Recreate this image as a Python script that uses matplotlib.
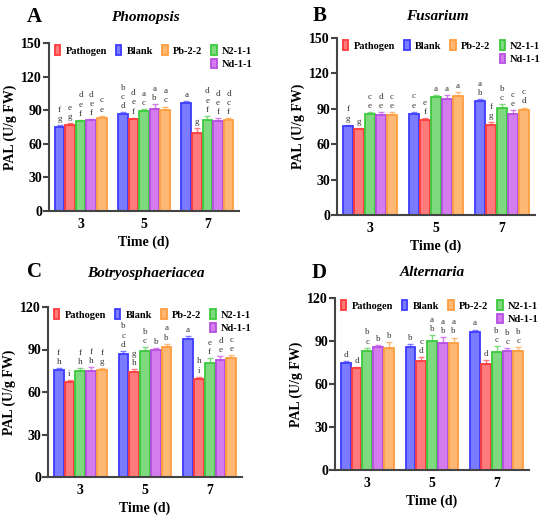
import numpy as np
import matplotlib
matplotlib.use('Agg')
import matplotlib.pyplot as plt
from matplotlib.patches import Patch

plt.rcParams['font.family'] = ['Liberation Serif', 'DejaVu Serif']
plt.rcParams['font.weight'] = 'bold'

days = ['3', '5', '7']
# bar order within each group
treatments = ['Blank', 'Pathogen', 'N2-1-1', 'Nd-1-1', 'Pb-2-2']
legend_order = ['Pathogen', 'Blank', 'Pb-2-2', 'N2-1-1', 'Nd-1-1']
fill = {'Blank': '#7b7bff', 'Pathogen': '#ff7b7b', 'N2-1-1': '#7fd97f',
        'Nd-1-1': '#d47cee', 'Pb-2-2': '#ffb873'}
edge = {'Blank': '#3b3bff', 'Pathogen': '#ff3a3a', 'N2-1-1': '#3dc93d',
        'Nd-1-1': '#b64fe0', 'Pb-2-2': '#ff9d40'}

# values: rows = days, cols = treatments (Blank, Pathogen, N2-1-1, Nd-1-1, Pb-2-2)
phomopsis = [[75, 76.4, 80.5, 81.1, 83.2],
             [86.2, 82.3, 89.4, 91.2, 90.3],
             [96.5, 70, 81, 80, 81]]
phomopsis_err = [[2, 2, 1, 1, 2], [2, 1, 1.5, 4, 3], [1.5, 4, 4, 3, 2]]
phomopsis_let = [['f g', 'e g', 'd e f', 'd e f', 'c e'],
                 ['b c d', 'd e f', 'a c', 'a b', 'a c'],
                 ['a', 'g', 'd e f', 'd e f', 'd c f']]

fusarium = [[75, 73, 85.4, 85, 85],
            [85.6, 80.9, 100, 98.3, 100.9],
            [96.4, 76.6, 90.8, 85.7, 89]]
fusarium_err = [[1.5, 1, 2, 2, 2], [2, 1, 2, 3, 3], [2, 2, 3, 3, 2]]
fusarium_let = [['f g', 'g', 'c e', 'd e', 'c e'],
                ['c e', 'e f', 'a', 'a', 'a'],
                ['a b', 'f g', 'b c', 'c e', 'c d']]

botryo = [[75.5, 67, 75, 74.5, 75.5],
          [87, 74, 89, 90, 91.7],
          [97.4, 69.4, 80.7, 82.6, 83.8]]
botryo_err = [[1.5, 1.5, 2, 3, 1.5], [2, 2, 2.5, 1, 2.5], [2, 1.5, 3, 2.5, 2]]
botryo_let = [['f h', 'i', 'f h', 'f h', 'f g'],
              ['b c d', 'g h', 'b c', 'b', 'a b'],
              ['a', 'h i', 'e f', 'd e', 'c e']]

alternaria = [[74.4, 71, 83.3, 86, 85],
              [85.6, 75.8, 90.2, 88.6, 88.4],
              [96, 74, 82.3, 82.8, 82.8]]
alternaria_err = [[1.5, 1, 2, 1, 4], [2, 3, 4, 4, 4], [2, 3, 4, 2, 3]]
alternaria_let = [['d', 'd', 'b c', 'b', 'b'],
                  ['b', 'c d', 'a b', 'a b', 'a b'],
                  ['a', 'd', 'b c', 'b c', 'b c']]

W, H = 550, 515
fig = plt.figure(figsize=(W / 100, H / 100), dpi=100)


def px_axes(left, top, right, bottom):
    return fig.add_axes([left / W, 1 - bottom / H, (right - left) / W, (bottom - top) / H])


panels = [
    ('A', 'Phomopsis', phomopsis, phomopsis_err, phomopsis_let, 150, (49, 43, 239, 211), (34, 17), (145, 17)),
    ('B', 'Fusarium', fusarium, fusarium_err, fusarium_let, 150, (337, 38, 535, 215), (320, 16), (437, 16)),
    ('C', 'Botryosphaeriacea', botryo, botryo_err, botryo_let, 120, (48, 307, 242, 477), (34, 272), (146, 274)),
    ('D', 'Alternaria', alternaria, alternaria_err, alternaria_let, 120, (335, 298, 529, 470), (319, 273), (432, 273)),
]

step = 0.167
bw = 0.15
x = np.arange(len(days))

for tag, title, vals, errs, lets, ymax, box, tagpos, titlepos in panels:
    ax = px_axes(*box)
    vals = np.array(vals)
    errs = np.array(errs)
    for j, t in enumerate(treatments):
        xpos = x + (j - 2) * step
        ax.bar(xpos, vals[:, j], width=bw, color=fill[t], edgecolor=edge[t],
               linewidth=1.3, zorder=2)
        ax.errorbar(xpos, vals[:, j], yerr=[np.zeros(3), errs[:, j]], fmt='none',
                    ecolor=fill[t], elinewidth=1.0, capsize=2.5, capthick=1.0, zorder=1)
        for i in range(len(days)):
            ax.text(xpos[i], vals[i, j] + errs[i, j] + ymax * 0.012,
                    '\n'.join(lets[i][j].split()), ha='center', va='bottom',
                    fontsize=6.5, fontweight='normal', color='#333333', linespacing=1.2)
    ax.set_xlim(-0.5, 2.5)
    ax.set_ylim(0, ymax)
    ax.set_yticks(np.arange(0, ymax + 1, 30))
    ax.set_xticks(x)
    ax.set_xticklabels(days)
    for s in ['top', 'right']:
        ax.spines[s].set_visible(False)
    for s in ['left', 'bottom']:
        ax.spines[s].set_color('#444444')
        ax.spines[s].set_linewidth(1.5)
    ax.tick_params(axis='y', length=4, width=1.5, color='#444444', labelsize=10, pad=1)
    ax.tick_params(axis='x', length=0, labelsize=10, pad=5)
    for lab in ax.get_xticklabels() + ax.get_yticklabels():
        lab.set_fontweight('bold')
    ax.set_ylabel('PAL (U/g FW)', fontsize=10, fontweight='bold', labelpad=3)
    ax.set_xlabel('Time (d)', fontsize=10, fontweight='bold', labelpad=3)

    # legend laid out row-wise: 4 entries on top, Nd-1-1 under N2-1-1
    real = {t: Patch(facecolor=fill[t], edgecolor=edge[t], linewidth=1.3) for t in legend_order}
    blank = Patch(facecolor='none', edgecolor='none')
    handles = [real['Pathogen'], blank, real['Blank'], blank,
               real['Pb-2-2'], blank, real['N2-1-1'], real['Nd-1-1']]
    labels = ['Pathogen', '', 'Blank', '', 'Pb-2-2', '', 'N2-1-1', 'Nd-1-1']
    ax.legend(handles, labels, loc='upper left', bbox_to_anchor=(0.01, 1.01),
              ncol=4, frameon=False, handlelength=0.5, handleheight=1.0,
              handletextpad=0.5, columnspacing=0.9, borderaxespad=0.0, labelspacing=0.3,
              prop={'weight': 'bold', 'size': 7.5})

    fig.text(tagpos[0] / W, 1 - tagpos[1] / H, tag, fontsize=15, fontweight='bold',
             ha='center', va='center')
    fig.text(titlepos[0] / W, 1 - titlepos[1] / H, title, fontsize=11, fontweight='bold',
             style='italic', ha='center', va='center')

fig.savefig('out.png', dpi=100)
